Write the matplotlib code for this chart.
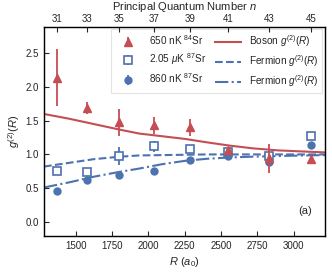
import numpy as np
import matplotlib
matplotlib.use('Agg')
import matplotlib.pyplot as plt

plt.rcParams['font.family'] = ['Liberation Sans', 'DejaVu Sans']
plt.rcParams['mathtext.fontset'] = 'custom'
plt.rcParams['mathtext.rm'] = 'Liberation Sans'
plt.rcParams['mathtext.it'] = 'Liberation Sans:italic'
plt.rcParams['text.color'] = '#262626'
plt.rcParams['axes.labelcolor'] = '#262626'
plt.rcParams['xtick.color'] = '#262626'
plt.rcParams['ytick.color'] = '#262626'

RED = '#C44E52'
BLUE = '#4C72B0'

# principal quantum numbers and matching separations R (a0)
n_vals = [31, 33, 35, 37, 39, 41, 43, 45]
R_vals = [1374, 1580, 1801, 2036, 2287, 2549, 2828, 3122]

# 650 nK 84Sr (boson)
g_84 = [2.14, 1.69, 1.48, 1.43, 1.40, 1.06, 0.94, 0.93]
e_84 = [0.42, 0.09, 0.20, 0.12, 0.12, 0.03, 0.21, 0.03]

# 2.05 uK 87Sr
g_87_hot = [0.75, 0.74, 0.98, 1.12, 1.08, 1.04, 0.98, 1.28]
e_87_hot = [0.03, 0.04, 0.13, 0.08, 0.06, 0.03, 0.04, 0.05]

# 860 nK 87Sr
g_87_cold = [0.46, 0.62, 0.70, 0.76, 0.92, 0.97, 0.89, 1.14]
e_87_cold = [0.02, 0.02, 0.02, 0.02, 0.02, 0.02, 0.02, 0.02]

# theory curves
R_curve = [1282, 1454, 1626, 1798, 1936, 2094, 2252, 2400, 2562, 2720, 2892, 3050, 3215]
boson = [1.60, 1.53, 1.45, 1.37, 1.31, 1.27, 1.23, 1.18, 1.13, 1.09, 1.06, 1.045, 1.03]
fermion_hot = [0.82, 0.875, 0.93, 0.965, 0.985, 0.99, 0.995, 1.0, 1.0, 1.0, 1.0, 1.0, 1.0]
fermion_cold = [0.51, 0.585, 0.67, 0.74, 0.79, 0.855, 0.905, 0.935, 0.955, 0.967, 0.976, 0.984, 0.99]

fig = plt.figure(figsize=(3.32, 2.73), dpi=100)
ax = fig.add_axes([0.1325, 0.1355, 0.8464, 0.7656])

h1 = ax.errorbar(R_vals, g_84, yerr=e_84, fmt='^', color=RED, ms=5.5, elinewidth=1.3,
                 capsize=0, label=r'650 nK $^{84}$Sr', zorder=4)
h2 = ax.errorbar(R_vals, g_87_hot, yerr=e_87_hot, fmt='s', color=BLUE, mfc='white',
                 mec=BLUE, mew=1.2, ms=5.5, elinewidth=1.3, capsize=0,
                 label=r'2.05 $\mu$K $^{87}$Sr', zorder=3)
h3 = ax.errorbar(R_vals, g_87_cold, yerr=e_87_cold, fmt='o', color=BLUE, ms=5,
                 elinewidth=1.3, capsize=0, label=r'860 nK $^{87}$Sr', zorder=3)

l1, = ax.plot(R_curve, boson, '-', color=RED, lw=1.5, label=r'Boson $g^{(2)}(R)$')
l2, = ax.plot(R_curve, fermion_hot, '--', color=BLUE, lw=1.5, label=r'Fermion $g^{(2)}(R)$')
l3, = ax.plot(R_curve, fermion_cold, '-.', color=BLUE, lw=1.5, label=r'Fermion $g^{(2)}(R)$')

ax.set_xlim(1282, 3215)
ax.set_ylim(-0.21, 2.89)
ax.set_xticks([1500, 1750, 2000, 2250, 2500, 2750, 3000])
ax.set_yticks([0.0, 0.5, 1.0, 1.5, 2.0, 2.5])
ax.tick_params(direction='in', labelsize=7, length=3.5, width=0.8)
ax.set_xlabel(r'$R$ ($a_0$)', fontsize=8, labelpad=3)
ax.set_ylabel(r'$g^{(2)}(R)$', fontsize=8, labelpad=3)
for s in ax.spines.values():
    s.set_linewidth(1.0)
    s.set_color('#262626')

# top axis: principal quantum number at the measured separations
top = ax.twiny()
top.set_xlim(ax.get_xlim())
top.set_xticks(R_vals)
top.set_xticklabels([str(n) for n in n_vals])
top.tick_params(direction='in', labelsize=7, length=3.5, width=0.8, pad=2)
top.set_xlabel(r'Principal Quantum Number $n$', fontsize=8, labelpad=3)

ax.text(0.955, 0.12, '(a)', transform=ax.transAxes, ha='right', va='center', fontsize=8)

leg = ax.legend([h1, h2, h3, l1, l2, l3],
                [h1.get_label(), h2.get_label(), h3.get_label(),
                 l1.get_label(), l2.get_label(), l3.get_label()],
                ncol=2, loc='upper right', fontsize=7.2, frameon=True,
                handlelength=2.6, columnspacing=0.9, handletextpad=0.8,
                borderaxespad=0.25, labelspacing=0.42, fancybox=False)
leg.get_frame().set_edgecolor('#dddddd')
leg.get_frame().set_linewidth(0.8)

fig.savefig('out.png', dpi=100)
